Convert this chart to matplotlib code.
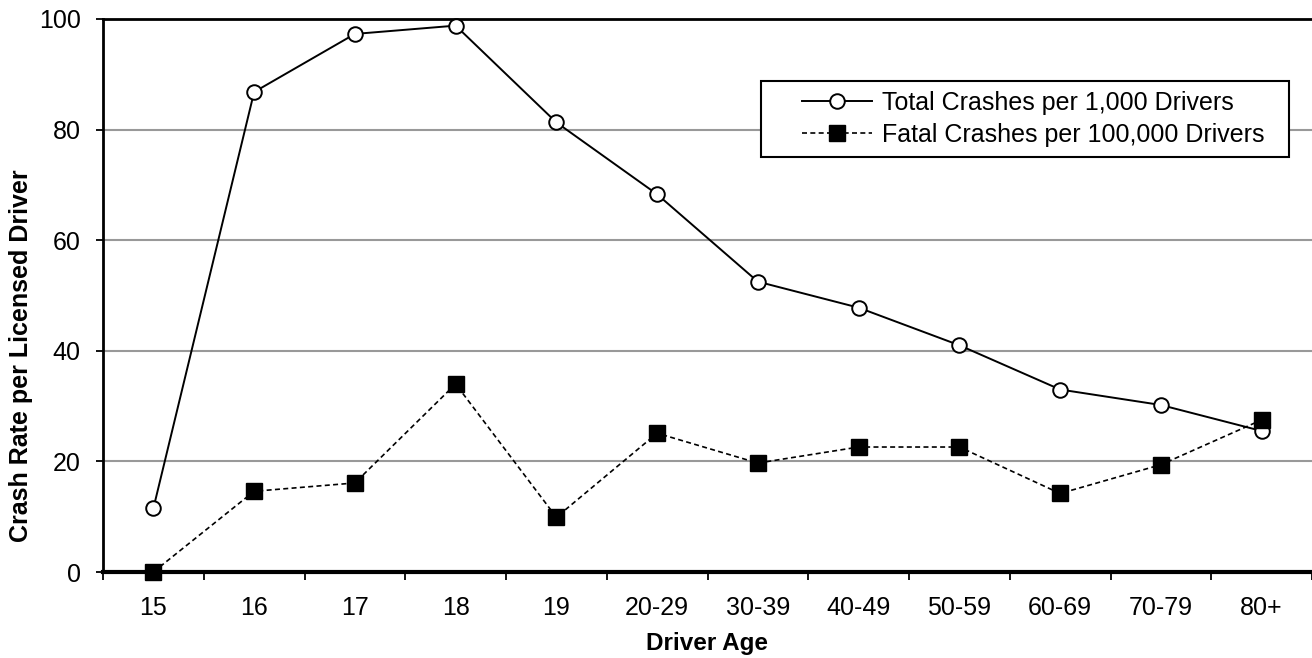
import numpy as np
import matplotlib
matplotlib.use('Agg')
import matplotlib.pyplot as plt
from matplotlib.ticker import FixedLocator
from matplotlib.patches import Rectangle

plt.rcParams['font.family'] = ['Liberation Sans', 'DejaVu Sans']

ages = ['15', '16', '17', '18', '19', '20-29', '30-39', '40-49',
        '50-59', '60-69', '70-79', '80+']
total_crashes = [11.5, 86.8, 97.3, 98.8, 81.3, 68.3, 52.5, 47.8, 41.0, 33.0, 30.2, 25.5]
fatal_crashes = [0.0, 14.6, 16.1, 34.0, 9.9, 25.1, 19.7, 22.6, 22.6, 14.2, 19.4, 27.5]
yticks = [0, 20, 40, 60, 80, 100]

W, H = 1312, 658
fig = plt.figure(figsize=(W / 100, H / 100), dpi=100)
# plot area in pixels: x 103..1312, y 19..572
ax = fig.add_axes([103 / W, (H - 572) / H, 1209 / W, 553 / H])

x = np.arange(len(ages))

# gridlines
for v in yticks[1:-1]:
    ax.axhline(v, color='#999999', lw=1.5, zorder=0)

ax.plot(x, total_crashes, color='black', lw=1.4, marker='o', ms=10.5,
        mfc='white', mec='black', mew=1.4, clip_on=False, zorder=3,
        label='Total Crashes per 1,000 Drivers')
ax.plot(x, fatal_crashes, color='black', lw=1.2, ls=(0, (3, 2)), marker='s', ms=11,
        mfc='black', mec='black', clip_on=False, zorder=4,
        label='Fatal Crashes per 100,000 Drivers')

ax.set_xlim(-0.5, len(ages) - 0.5)
ax.set_ylim(0, 100)
ax.set_yticks(yticks)
ax.set_xticks(x)
ax.set_xticklabels(ages)
ax.xaxis.set_minor_locator(FixedLocator(np.arange(-0.5, len(ages), 1.0)))
ax.tick_params(axis='x', which='major', length=0, pad=17, labelsize=18)
ax.tick_params(axis='x', which='minor', length=6, width=1.3, direction='out')
ax.tick_params(axis='y', length=5, width=1.3, direction='out', pad=11, labelsize=18)

for side in ['left', 'top']:
    ax.spines[side].set_linewidth(2)
ax.spines['bottom'].set_linewidth(3)
ax.spines['right'].set_visible(False)

ax.set_xlabel('Driver Age', fontsize=17.5, fontweight='bold', labelpad=9)
fig.text(21 / W, 1 - 356 / H, 'Crash Rate per Licensed Driver', rotation=90,
         ha='center', va='center', fontsize=18, fontweight='bold')

# legend box
ax.add_patch(Rectangle(((761 - 103) / 1209, (572 - 157) / 553), 528 / 1209, 76 / 553,
                       transform=ax.transAxes, facecolor='white', edgecolor='black',
                       lw=1.5, zorder=5))
leg = ax.legend(loc='upper left', bbox_to_anchor=((802 - 103) / 1209, (572 - 91) / 553),
                borderaxespad=0, borderpad=0, fontsize=18, frameon=False,
                handlelength=2.8, handletextpad=0.4, labelspacing=0.32)
leg.set_zorder(6)

fig.savefig('out.png', dpi=100)
